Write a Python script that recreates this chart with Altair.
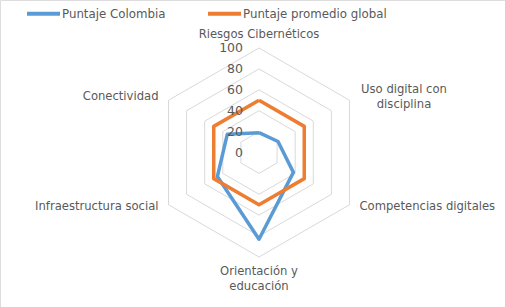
import altair as alt
import pandas as pd

categorias = ["Riesgos Cibernéticos", "Uso digital con disciplina", "Competencias digitales",
              "Orientación y educación", "Infraestructura social", "Conectividad"]
colombia = [19, 21, 38, 83, 46, 35]
promedio_global = [50, 50, 50, 50, 50, 50]
series = ["Puntaje Colombia", "Puntaje promedio global"]
niveles = [20, 40, 60, 80, 100]
ticks = [0, 20, 40, 60, 80, 100]

n = len(categorias)
rows = []
for s, vals in zip(series, [colombia, promedio_global]):
    for i in range(n + 1):
        k = i % n
        rows.append({"serie": s, "eje": categorias[k], "idx": i, "valor": vals[k]})
df = pd.DataFrame(rows)

grid = pd.DataFrame([{"nivel": lv, "idx": i} for lv in niveles for i in range(n + 1)])
tick_df = pd.DataFrame({"tick": ticks})
lab_df = pd.DataFrame({"eje": categorias, "idx": list(range(n)),
                       "texto": ["Riesgos Cibernéticos", "Uso digital con\ndisciplina", "Competencias digitales",
                                 "Orientación y\neducación", "Infraestructura social", "Conectividad"]})

W, H = 505, 307
cx, cy, R = 259, 152.5, 104.5
k = 100 / R
xs = alt.Scale(domain=[-cx * k, (W - cx) * k], nice=False, zero=False)
ys = alt.Scale(domain=[-(H - cy) * k, cy * k], nice=False, zero=False)

ang = "datum.idx * 2 * PI / %d" % n
FONT = "DejaVu Sans"
TXT = "#595959"

X = alt.X("x:Q", scale=xs, axis=None)
Y = alt.Y("y:Q", scale=ys, axis=None)

grid_layer = alt.Chart(grid).transform_calculate(
    x="datum.nivel * sin(%s)" % ang, y="datum.nivel * cos(%s)" % ang
).mark_line(color="#D9D9D9", strokeWidth=1).encode(
    x=X, y=Y, detail="nivel:N", order="idx:Q"
)

lines = alt.Chart(df).transform_calculate(
    x="datum.valor * sin(%s)" % ang, y="datum.valor * cos(%s)" % ang
).mark_line(strokeWidth=3.5, strokeJoin="round").encode(
    x=X, y=Y, order="idx:Q",
    color=alt.Color("serie:N",
                    scale=alt.Scale(domain=series, range=["#5B9BD5", "#ED7D31"]),
                    legend=alt.Legend(orient="none", legendX=25, legendY=-5, direction="horizontal",
                                      title=None, symbolType="stroke", symbolSize=1089,
                                      symbolStrokeWidth=4, labelFont=FONT, labelFontSize=11.8,
                                      labelColor=TXT, columnPadding=34, labelOffset=0, padding=0))
)

tick_layer = alt.Chart(tick_df).transform_calculate(x="0", y="datum.tick").mark_text(
    align="right", baseline="middle", dx=-16, font=FONT, fontSize=12.5, color=TXT
).encode(x=X, y=Y, text="tick:Q")

base_lab = alt.Chart(lab_df).transform_calculate(
    x="100 * sin(%s)" % ang, y="100 * cos(%s)" % ang
)

def lab(name, **kw):
    return base_lab.transform_filter(alt.datum.eje == name).mark_text(
        font=FONT, fontSize=11.6, color=TXT, lineBreak="\n", lineHeight=15, baseline="middle", **kw
    ).encode(x=X, y=Y, text="texto:N")

labels = [
    lab(categorias[0], align="center", dy=-13.5),
    lab(categorias[1], align="center", dx=54.5, dy=-10),
    lab(categorias[2], align="left", dx=10, dy=2),
    lab(categorias[3], align="center", dy=15),
    lab(categorias[4], align="right", dx=-10, dy=2),
    lab(categorias[5], align="right", dx=-10, dy=-3),
]

chart = alt.layer(grid_layer, lines, tick_layer, *labels).properties(
    width=W, height=H, autosize=alt.AutoSizeParams(type="none"), padding=0
).configure_view(stroke=None).configure(background="white")

chart.save("out.html", embed_options={"renderer": "svg", "actions": False})
